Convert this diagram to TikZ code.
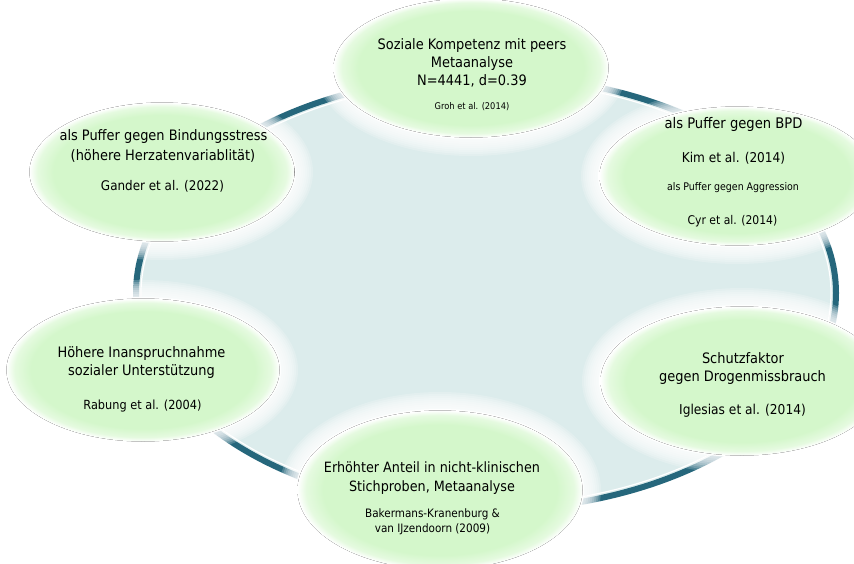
\documentclass[tikz,border=0pt]{standalone}
\usepackage{fontspec}
\setmainfont{DejaVu Sans Condensed}

\definecolor{ringteal}{RGB}{38,103,124}
\definecolor{panel}{RGB}{220,236,236}
\definecolor{bubble}{RGB}{212,247,203}

% green fill that fades to white towards the rim of the ellipse
\pgfdeclareradialshading{bubbleshade}{\pgfpoint{0bp}{0bp}}{%
  color(0bp)=(bubble); color(20.5bp)=(bubble); color(23.5bp)=(bubble!60!white);
  color(25bp)=(white); color(50bp)=(white)}

% soft bubble: white halo plus shaded green ellipse; #1 name, #2/#3 centre, #4/#5 radii
\newcommand\softbubble[5]{%
  \foreach \d in {18,16,...,2}{%
    \fill[white, opacity=0.2] (#2,#3) ellipse [x radius=#4pt+\d pt, y radius=#5pt+\d pt];}
  \fill[white] (#2,#3) ellipse [x radius=#4pt+1pt, y radius=#5pt+1pt];
  \fill[shading=bubbleshade] (#2,#3) ellipse [x radius=#4pt-0.5pt, y radius=#5pt-0.5pt];
  \coordinate (#1) at (#2,#3);
}

\tikzset{
  ln/.style={anchor=base, inner sep=0pt, text=black},
  big/.style={ln, font=\fontsize{14.4}{17}\selectfont},
}

\begin{document}
\begin{tikzpicture}[x=1pt,y=-1pt]
  \useasboundingbox (0,0) rectangle (854,563);
  \fill[white] (0,0) rectangle (854,563);

  % central ring with a thin light line along its inner side
  \fill[panel] (486,293) ellipse [x radius=350pt, y radius=217pt];
  \draw[white, line width=1.2pt] (486,293) ellipse [x radius=345pt, y radius=212pt];
  \draw[line width=6pt, draw=ringteal] (486,293) ellipse [x radius=350pt, y radius=217pt];

  % bubbles
  \softbubble{bTop}{471}{68}{138}{70}
  \softbubble{bTopRight}{737}{176}{138}{70}
  \softbubble{bTopLeft}{162}{172}{133}{70}
  \softbubble{bLeft}{143}{370}{137}{72}
  \softbubble{bRight}{742}{381}{142}{75}
  \softbubble{bBottom}{440}{490}{143}{80}

  % top
  \node[big] (top1) at (472,49.5) {Soziale Kompetenz mit peers};
  \node[big] (top2) at (472,67) {Metaanalyse};
  \node[big] (top3) at (472,85) {N=4441, d=0.39};
  \node[ln, font=\fontsize{9.2}{11}\selectfont] (top4) at (472,109) {Groh et al. (2014)};

  % top right
  \node[ln, font=\fontsize{14.6}{17}\selectfont] (tr1) at (733.5,128) {als Puffer gegen BPD};
  \node[ln, font=\fontsize{13.5}{16}\selectfont] (tr2) at (733.5,162.5) {Kim et al. (2014)};
  \node[ln, font=\fontsize{10.5}{12}\selectfont] (tr3) at (733,190.5) {als Puffer gegen Aggression};
  \node[ln, font=\fontsize{12}{14}\selectfont] (tr4) at (732.5,224) {Cyr et al. (2014)};

  % top left
  \node[big] (tl1) at (163.5,140) {als Puffer gegen Bindungsstress};
  \node[big] (tl2) at (163,160) {(höhere Herzatenvariablität)};
  \node[ln, font=\fontsize{13.3}{16}\selectfont] (tl3) at (162.5,190.5) {Gander et al. (2022)};

  % left
  \node[big] (l1) at (141.5,357) {Höhere Inanspruchnahme};
  \node[big] (l2) at (141.5,375) {sozialer Unterstützung};
  \node[ln, font=\fontsize{12.6}{15}\selectfont] (l3) at (142.5,409) {Rabung et al. (2004)};

  % right
  \node[big] (r1) at (743,363) {Schutzfaktor};
  \node[big] (r2) at (742.5,381) {gegen Drogenmissbrauch};
  \node[ln, font=\fontsize{13.6}{16}\selectfont] (r3) at (742.5,414.5) {Iglesias et al. (2014)};

  % bottom
  \node[ln, font=\fontsize{14.2}{17}\selectfont] (b1) at (432,472) {Erhöhter Anteil in nicht-klinischen};
  \node[ln, font=\fontsize{14.2}{17}\selectfont] (b2) at (432,491) {Stichproben, Metaanalyse};
  \node[ln, font=\fontsize{11.6}{14}\selectfont] (b3) at (432.5,517) {Bakermans-Kranenburg \&};
  \node[ln, font=\fontsize{11.6}{14}\selectfont] (b4) at (432.5,532) {van IJzendoorn (2009)};
\end{tikzpicture}
\end{document}
